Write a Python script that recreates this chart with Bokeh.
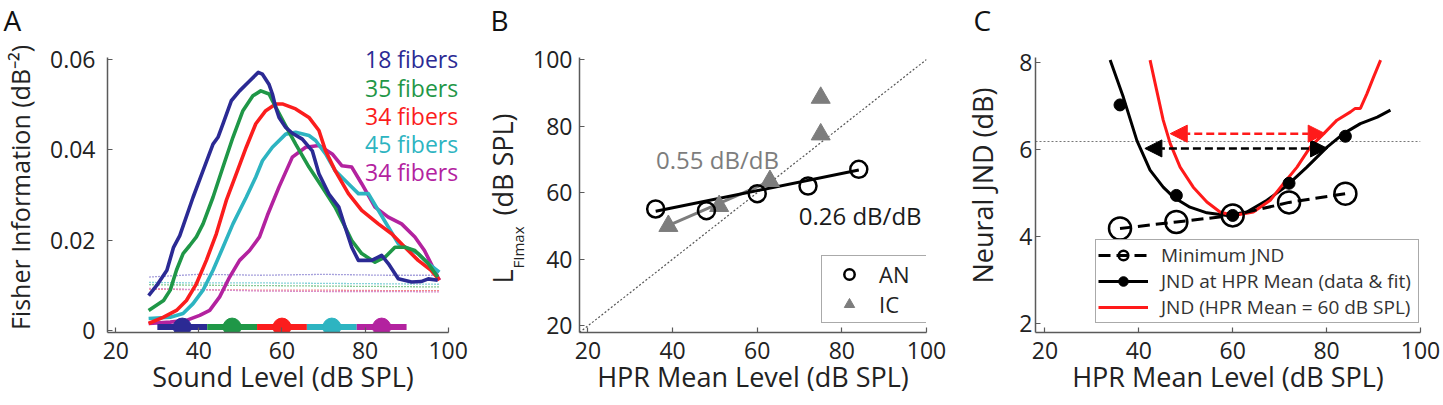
import math
from bokeh.plotting import figure
from bokeh.layouts import row, column
from bokeh.models import FixedTicker, Legend, LegendItem, Arrow, NormalHead, Range1d
from bokeh.core.properties import value
from bokeh.embed import file_html
from bokeh.resources import INLINE

FONT = "Open Sans"
TXT = "#222222"
AXC = "#5a5a5a"

# ---------------- Panel A data ----------------
a_xticks = [20, 40, 60, 80, 100]
a_yticks = [0, 0.02, 0.04, 0.06]
a_ytick_labels = ["0", "0.02", "0.04", "0.06"]
fiber_labels = ["18 fibers", "35 fibers", "34 fibers", "45 fibers", "34 fibers"]
fiber_colors = ["#2b2a94", "#1f9747", "#fb1d1d", "#2db4c1", "#b3229f"]
floor_colors = ["#a59fdb", "#86c993", "#f28a8a", "#86d2d8", "#d98fcb"]

blue_x = [27.9, 29.9, 32.3, 33.9, 35.4, 38.6, 41.0, 43.4, 44.6, 45.8, 47.8, 49.8, 52.2, 54.3, 55.3,
          56.9, 57.7, 58.5, 59.3, 60.9, 62.5, 64.9, 67.3, 68.9, 71.3, 73.7, 75.2, 76.8, 78.4, 81.6,
          84.0, 85.6, 88.0, 91.2, 93.5, 95.2, 97.5]
blue_y = [0.0077, 0.0100, 0.0133, 0.0184, 0.0210, 0.0295, 0.0354, 0.0413, 0.0428, 0.0458, 0.0509,
          0.0531, 0.0553, 0.0572, 0.0568, 0.0545, 0.0524, 0.0494, 0.0472, 0.0450, 0.0437, 0.0424,
          0.0398, 0.0347, 0.0302, 0.0273, 0.0229, 0.0184, 0.0155, 0.0155, 0.0166, 0.0148, 0.0114,
          0.0107, 0.0108, 0.0114, 0.0111]
green_x = [27.9, 31.5, 33.1, 34.6, 36.2, 37.8, 39.4, 41.0, 43.4, 45.8, 48.2, 50.6, 53.0, 54.9, 56.9,
           57.7, 60.5, 63.3, 66.5, 69.7, 72.8, 75.2, 76.8, 79.2, 82.4, 84.8, 87.2, 89.6, 92.0, 95.2, 97.5]
green_y = [0.0044, 0.0066, 0.0089, 0.0133, 0.0170, 0.0188, 0.0207, 0.0236, 0.0295, 0.0362, 0.0428,
           0.0487, 0.0520, 0.0531, 0.0524, 0.0509, 0.0460, 0.0413, 0.0362, 0.0317, 0.0273, 0.0229,
           0.0199, 0.0170, 0.0151, 0.0162, 0.0184, 0.0184, 0.0177, 0.0148, 0.0118]
red_x = [27.9, 31.5, 34.6, 37.0, 39.4, 41.8, 44.2, 46.6, 49.0, 51.4, 53.7, 56.1, 58.5, 60.1, 63.3,
         66.5, 68.9, 70.5, 72.8, 76.0, 79.2, 83.2, 86.4, 89.6, 92.8, 95.9, 97.9]
red_y = [0.0015, 0.0029, 0.0044, 0.0066, 0.0103, 0.0155, 0.0214, 0.0288, 0.0347, 0.0406, 0.0458,
         0.0487, 0.0502, 0.0502, 0.0491, 0.0472, 0.0443, 0.0398, 0.0354, 0.0303, 0.0266, 0.0236,
         0.0214, 0.0184, 0.0155, 0.0133, 0.0111]
cyan_x = [27.9, 33.1, 36.2, 38.6, 41.0, 43.4, 45.8, 48.2, 51.4, 53.7, 55.3, 57.7, 60.9, 63.3, 66.5,
          68.1, 70.5, 72.8, 76.0, 78.4, 80.8, 83.2, 85.6, 88.0, 90.4, 92.8, 95.2, 97.9]
cyan_y = [0.0026, 0.0029, 0.0037, 0.0059, 0.0089, 0.0133, 0.0184, 0.0236, 0.0295, 0.0340, 0.0376,
          0.0406, 0.0435, 0.0439, 0.0432, 0.0421, 0.0391, 0.0354, 0.0325, 0.0303, 0.0303, 0.0266,
          0.0229, 0.0192, 0.0181, 0.0170, 0.0148, 0.0129]
magenta_x = [27.9, 33.1, 37.0, 40.2, 42.6, 45.0, 47.4, 49.8, 52.2, 54.6, 56.5, 59.3, 62.5, 65.7,
             68.9, 72.1, 74.4, 76.8, 79.2, 82.4, 85.6, 88.8, 92.0, 94.3, 96.3, 97.9]
magenta_y = [0.0015, 0.0018, 0.0022, 0.0033, 0.0044, 0.0074, 0.0118, 0.0155, 0.0177, 0.0207, 0.0255,
             0.0318, 0.0384, 0.0406, 0.0410, 0.0391, 0.0365, 0.0362, 0.0325, 0.0273, 0.0251, 0.0236,
             0.0207, 0.0177, 0.0140, 0.0111]

floor_x = [28, 40, 55, 70, 85, 98]
floor_blue = [0.0118, 0.0124, 0.0122, 0.0124, 0.0122, 0.0122]
floor_green = [0.0101, 0.0100, 0.0099, 0.0098, 0.0097, 0.0096]
floor_red = [0.0091, 0.0090, 0.0089, 0.0089, 0.0088, 0.0088]
floor_cyan = [0.0106, 0.0105, 0.0105, 0.0104, 0.0103, 0.0102]
floor_magenta = [0.0093, 0.0090, 0.0087, 0.0086, 0.0086, 0.0085]

hpr_centers = [36, 48, 60, 72, 84]
hpr_lo = [30, 42, 54, 66, 78]
hpr_hi = [42, 54, 66, 78, 90]

# ---------------- Panel B data ----------------
b_ticks = [20, 40, 60, 80, 100]
an_x = [36, 48, 60, 72, 84]
an_y = [55.1, 54.6, 59.7, 62.0, 67.0]
ic_x = [39, 51, 63, 75, 75]
ic_y = [50.0, 56.0, 63.5, 77.5, 88.5]
an_fit_x = [36, 84]
an_fit_y = [54.4, 66.8]
ic_fit_x = [38, 63]
ic_fit_y = [49.6, 63.4]
unity_x = [18, 100]
unity_y = [18, 100]

# ---------------- Panel C data ----------------
c_xticks = [20, 40, 60, 80, 100]
c_yticks = [2, 4, 6, 8]
hpr_x = [36, 48, 60, 72, 84]
min_jnd = [4.18, 4.33, 4.48, 4.78, 4.98]
jnd_at_mean = [7.02, 4.94, 4.48, 5.22, 6.30]
fit_x = [33.9, 36.7, 39.6, 42.4, 45.2, 47.4, 50.9, 54.5, 58.8, 63.0, 67.3, 71.6, 75.8, 80.1,
         83.6, 87.2, 90.8, 93.6]
fit_y = [8.05, 7.20, 6.20, 5.52, 5.13, 4.90, 4.67, 4.54, 4.48, 4.56, 4.83, 5.17, 5.59, 6.05,
         6.36, 6.59, 6.74, 6.90]
jnd60_x = [42.4, 43.8, 45.2, 46.7, 48.8, 51.6, 54.5, 57.3, 60.2, 64.4, 68.0, 70.8, 73.7, 76.5,
           79.4, 82.2, 85.1, 86.1, 87.2, 88.6, 90.0, 91.5]
jnd60_y = [8.05, 7.36, 6.67, 6.13, 5.59, 5.13, 4.79, 4.56, 4.48, 4.56, 4.83, 5.21, 5.59, 6.05,
           6.36, 6.67, 6.86, 6.94, 6.94, 7.28, 7.66, 8.05]
threshold = 6.18
black_arrow = [41.3, 80.2, 6.02]
red_arrow = [46.7, 79.7, 6.36]

# ---------------- layout constants (page pixels) ----------------
TOP_H = 42            # strip that holds the panel letters
MAIN_H = 405 - TOP_H
FRAME_TOP = 42        # top of every plotting area (extended above the axis line)
AXIS_TOP = 57         # where the axis lines end at the top
FRAME_BOTTOM = 332


def extend_top(lo, hi):
    """Range whose [lo, hi] part spans AXIS_TOP..FRAME_BOTTOM, extended up to FRAME_TOP."""
    per_px = (hi - lo) / (FRAME_BOTTOM - AXIS_TOP)
    return (lo, lo + per_px * (FRAME_BOTTOM - FRAME_TOP))


def make_fig(width, left, right, xr, ylim):
    p = figure(width=width, height=MAIN_H, x_range=Range1d(*xr),
               y_range=Range1d(*extend_top(*ylim)),
               output_backend="svg", toolbar_location=None, title=None,
               min_border_left=left, min_border_right=right,
               min_border_top=FRAME_TOP - TOP_H, min_border_bottom=405 - FRAME_BOTTOM)
    p.outline_line_color = None
    p.xgrid.visible = False
    p.ygrid.visible = False
    p.background_fill_color = "white"
    p.border_fill_color = "white"
    p.yaxis[0].bounds = ylim
    return p


def make_strip(width, height, top, bottom, yr):
    p = figure(width=width, height=height, x_range=Range1d(0, width), y_range=Range1d(*yr),
               output_backend="svg", toolbar_location=None, title=None,
               x_axis_type=None, y_axis_type=None, min_border_left=0, min_border_right=0,
               min_border_top=top, min_border_bottom=bottom)
    p.outline_line_color = None
    p.background_fill_color = "white"
    p.border_fill_color = "white"
    return p


def strip_text(p, x, y, txt, size, angle=0.0, align="left", color="#111111"):
    p.text(x=[x], y=[y], text=[txt], angle=angle, text_font=value(FONT),
           text_font_size=value(size), text_color=color, text_align=align,
           text_baseline="middle")


def style_axes(p, xticks, yticks, xlabel, ystand, ylabel=None, ylabstand=0, yover=None):
    for ax in (p.xaxis[0], p.yaxis[0]):
        ax.axis_line_color = AXC
        ax.axis_line_width = 1.5
        ax.major_tick_in = 5
        ax.major_tick_out = 0
        ax.minor_tick_in = 0
        ax.minor_tick_out = 0
        ax.major_tick_line_color = AXC
        ax.major_tick_line_width = 1.2
        ax.major_label_text_font = FONT
        ax.major_label_text_font_size = "23px"
        ax.major_label_text_color = TXT
        ax.axis_label_text_font = FONT
        ax.axis_label_text_font_size = "27px"
        ax.axis_label_text_font_style = "normal"
        ax.axis_label_text_color = TXT
    p.xaxis[0].ticker = FixedTicker(ticks=xticks)
    p.yaxis[0].ticker = FixedTicker(ticks=yticks)
    p.xaxis[0].major_label_standoff = 9
    p.xaxis[0].axis_label_standoff = -4
    p.xaxis[0].axis_label = xlabel
    p.yaxis[0].major_label_standoff = ystand
    if ylabel:
        p.yaxis[0].axis_label = ylabel
        p.yaxis[0].axis_label_standoff = ylabstand
    if yover:
        p.yaxis[0].major_label_overrides = yover


# ================= panel letters (top strip); y data = page pixels from bottom =================
top = make_strip(1443, TOP_H, 0, 0, (405 - TOP_H, 405))
top.text(x=[3, 490, 973], y=[385.5, 385.5, 385.5], text=["A", "B", "C"], text_font=value(FONT),
         text_font_size=value("28px"), text_color="#111111", text_align="left",
         text_baseline="middle")

# ================= Panel A =================
pa = make_fig(480, 103, 22, (18, 102.5), (-0.0005, 0.0605))
style_axes(pa, a_xticks, a_yticks, "Sound Level (dB SPL)", 12,
           "Fisher Information (dB\u207b\u00b2)", 10,
           {t: s for t, s in zip(a_yticks, a_ytick_labels)})
pa.yaxis[0].axis_label_text_font_size = "25px"
pa.xaxis[0].bounds = (18, 100)

for fy, fc in zip([floor_blue, floor_cyan, floor_green, floor_red, floor_magenta],
                  [floor_colors[0], floor_colors[3], floor_colors[1], floor_colors[2], floor_colors[4]]):
    pa.line(floor_x, fy, line_color=fc, line_width=1.3, line_dash="2 1")

curves = [(magenta_x, magenta_y, fiber_colors[4]), (cyan_x, cyan_y, fiber_colors[3]),
          (red_x, red_y, fiber_colors[2]), (green_x, green_y, fiber_colors[1]),
          (blue_x, blue_y, fiber_colors[0])]
for cx, cy, cc in curves:
    pa.line(cx, cy, line_color=cc, line_width=3.6, line_join="round")

bar_y = 0.0007
pa.segment(x0=hpr_lo, y0=[bar_y] * 5, x1=hpr_hi, y1=[bar_y] * 5, line_color=fiber_colors,
           line_width=6)
pa.scatter(hpr_centers, [bar_y] * 5, size=18, fill_color=fiber_colors, line_color=fiber_colors)

label_ys = [0.0601, 0.0538, 0.0476, 0.0414, 0.0350]
pa.text(x=[80] * 5, y=label_ys, text=fiber_labels, text_color=fiber_colors,
        text_font=value(FONT), text_font_size=value("23px"), text_align="left",
        text_baseline="middle")

# ================= Panel B =================
# strip holding the composite y label  L_FImax (dB SPL); y data = page pixels from bottom
strip_yr = (405 - FRAME_BOTTOM, 405 - FRAME_TOP)
sb = make_strip(50, MAIN_H, FRAME_TOP - TOP_H, 405 - FRAME_BOTTOM, strip_yr)
strip_text(sb, 21.5, 122, "L", "27px", math.pi / 2, "left", TXT)
strip_text(sb, 37.2, 137, "FImax", "15px", math.pi / 2, "left", TXT)
strip_text(sb, 21.5, 190, "(dB SPL)", "27px", math.pi / 2, "left", TXT)

pb = make_fig(430, 48, 34, (18, 100), (18, 100.6))
style_axes(pb, b_ticks, b_ticks, "HPR Mean Level (dB SPL)", 7)
pb.line(unity_x, unity_y, line_color="#555555", line_width=1.2, line_dash="2 2")
pb.line(ic_fit_x, ic_fit_y, line_color="#7d7d7d", line_width=3)
pb.line(an_fit_x, an_fit_y, line_color="black", line_width=3)
ic_r = pb.scatter(ic_x, ic_y, marker="triangle", size=19, fill_color="#7d7d7d",
                  line_color="#7d7d7d")
an_r = pb.scatter(an_x, an_y, marker="circle", size=17, fill_color=None, line_color="black",
                  line_width=2.5)
pb.text(x=[36.1, 69.8], y=[70.0, 53.1], text=["0.55 dB/dB", "0.26 dB/dB"],
        text_color=["#7d7d7d", "#1a1a1a"], text_font=value(FONT), text_font_size=value("24px"),
        text_align="left", text_baseline="middle")
leg_b = Legend(items=[LegendItem(label="AN", renderers=[an_r]),
                      LegendItem(label="IC", renderers=[ic_r])],
               location=(242, 9), padding=3, margin=0, spacing=0, glyph_width=48,
               glyph_height=26, label_standoff=6, label_width=45, label_text_font=FONT,
               label_text_font_size="22px", label_text_color=TXT, border_line_color="#555555",
               border_line_width=1.5)
pb.add_layout(leg_b)

# ================= Panel C =================
sc = make_strip(55, MAIN_H, FRAME_TOP - TOP_H, 405 - FRAME_BOTTOM, strip_yr)
strip_text(sc, 21.5, 220, "Neural JND (dB)", "27px", math.pi / 2, "center", TXT)

pc = make_fig(428, 20, 23, (18, 100), (1.79, 8.11))
style_axes(pc, c_xticks, c_yticks, "HPR Mean Level (dB SPL)", 3)
pc.line([18, 100], [threshold, threshold], line_color="#777777", line_width=1.2, line_dash="2 2")
fit_r = pc.line(fit_x, fit_y, line_color="black", line_width=3)
red_r = pc.line(jnd60_x, jnd60_y, line_color="#ff1a1a", line_width=3)
min_line = pc.line(hpr_x, min_jnd, line_color="black", line_width=3, line_dash="12 6")
pc.add_layout(Arrow(x_start=black_arrow[0], x_end=black_arrow[1], y_start=black_arrow[2],
                    y_end=black_arrow[2], line_color="black", line_width=2.5, line_dash="8 4",
                    start=NormalHead(size=17, fill_color="black", line_color="black"),
                    end=NormalHead(size=17, fill_color="black", line_color="black")))
pc.add_layout(Arrow(x_start=red_arrow[0], x_end=red_arrow[1], y_start=red_arrow[2],
                    y_end=red_arrow[2], line_color="#ff1a1a", line_width=2.5, line_dash="8 4",
                    start=NormalHead(size=17, fill_color="#ff1a1a", line_color="#ff1a1a"),
                    end=NormalHead(size=17, fill_color="#ff1a1a", line_color="#ff1a1a")))
dot_r = pc.scatter(hpr_x, jnd_at_mean, marker="circle", size=12, fill_color="black",
                   line_color="black")
min_r = pc.scatter(hpr_x, min_jnd, marker="circle", size=22, fill_color=None,
                   line_color="black", line_width=2.5)
leg_c = Legend(items=[LegendItem(label="Minimum JND", renderers=[min_line, min_r]),
                      LegendItem(label="JND at HPR Mean (data & fit)", renderers=[fit_r, dot_r]),
                      LegendItem(label="JND (HPR Mean = 60 dB SPL)", renderers=[red_r])],
               location=(60, 9), padding=2, margin=0, spacing=0, glyph_width=50,
               glyph_height=24, label_standoff=13, label_width=255, label_text_font=FONT,
               label_text_font_size="19px", label_text_color="#333333",
               border_line_color="#555555", border_line_width=1.5)
pc.add_layout(leg_c)

layout = column(top, row(pa, sb, pb, sc, pc))
open("out.html", "w").write(file_html(layout, INLINE))
